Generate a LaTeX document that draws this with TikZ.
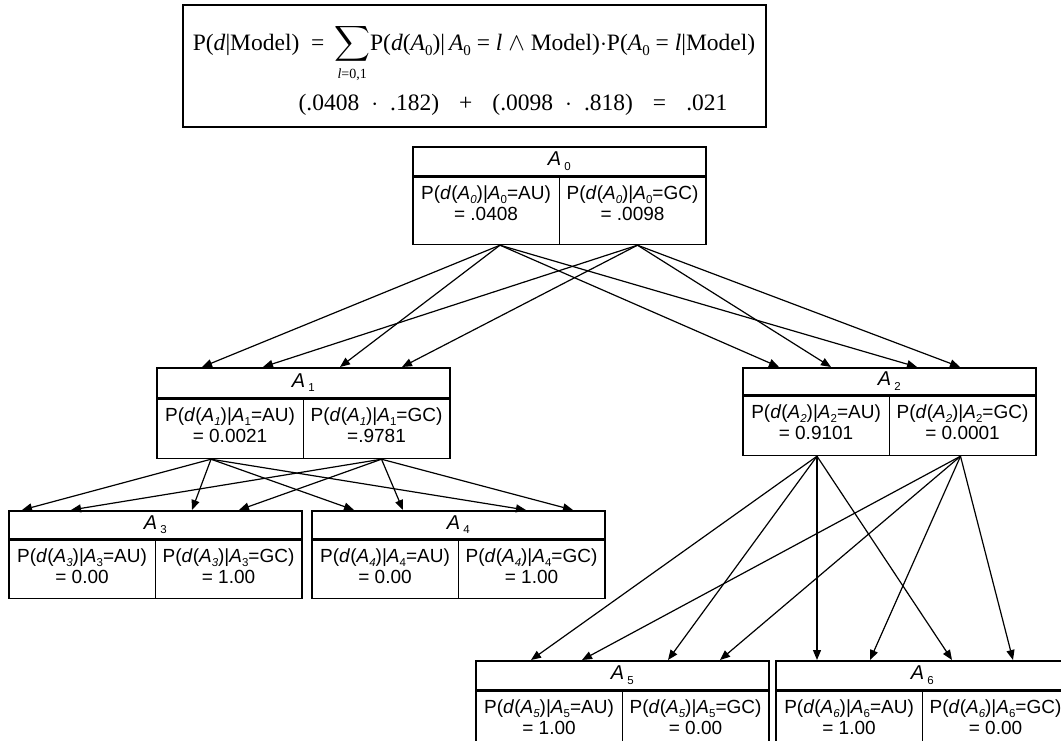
\documentclass[tikz,border=0pt]{standalone}
\usepackage{amsmath}
\usepackage{fontspec}
\setmainfont{Liberation Serif}
\newfontfamily\arial{Liberation Sans}
\usetikzlibrary{arrows.meta}
\newcommand\sbs[1]{\raisebox{-0.22em}{\fontsize{11.5}{11.5}\selectfont #1}}
\newcommand\fsub[1]{\raisebox{-0.25em}{\fontsize{15}{15}\selectfont #1}}
\newcommand\tbox[8]{%
  \node[hdr, minimum height=#4pt, anchor=north west] (#1h) at (#2,#3) {\textit{A}\,\sbs{#6}};
  \node[cellbox, minimum height=#5pt, anchor=north west] (#1l) at (#1h.south west) {};
  \node[cellbox, minimum height=#5pt, anchor=north east] (#1r) at (#1h.south east) {};
  \node[celltext] (#1lt) at ([yshift=-9pt]#1l.north) {P(\textit{d}(\textit{A}\sbs{\textit{#6}})|\textit{A}\sbs{#6}=AU)\\#7};
  \node[celltext] (#1rt) at ([yshift=-9pt]#1r.north) {P(\textit{d}(\textit{A}\sbs{\textit{#6}})|\textit{A}\sbs{#6}=GC)\\#8};
}
\tikzset{
  hdr/.style={draw, line width=1.6pt, minimum width=293pt, inner sep=0pt, font=\arial\fontsize{20}{21}\selectfont},
  cellbox/.style={draw, line width=1.6pt, minimum width=146.5pt, inner sep=0pt},
  celltext/.style={anchor=north, inner sep=0pt, align=center, font=\arial\fontsize{19}{21}\selectfont},
  arr/.style={line width=1.2pt, -{Triangle[length=10pt,width=8pt]}},
  ftext/.style={anchor=base, inner sep=0pt, font=\fontsize{23.5}{28}\selectfont}
}
\begin{document}
\begin{tikzpicture}[x=1pt,y=-1pt]
\clip (0,0) rectangle (1061,740);
\fill[white] (0,0) rectangle (1061,740);
% formula
\node[draw, line width=1.6pt, minimum width=583pt, minimum height=122pt, anchor=north west, inner sep=0pt] (F) at (182,4) {};
\node[ftext] (F1) at (474,50) {P(\textit{d}|Model) \ = \,$\displaystyle\sum\limits_{\mbox{\fontsize{14}{14}\selectfont\textit{l}=0,1}}$P(\textit{d}(\textit{A}\fsub{0})|\,\textit{A}\fsub{0} = \textit{l} $\wedge$ Model)$\cdot$P(\textit{A}\fsub{0} = \textit{l}|Model)};
\node[ftext] (F2) at (513,110) {(.0408\hspace{12pt}$\cdot$\hspace{12pt}.182)\hspace{20pt}+\hspace{20pt}(.0098\hspace{12pt}$\cdot$\hspace{12pt}.818)\hspace{20pt}=\hspace{20pt}.021};
% boxes
\tbox{A0}{412}{146}{29}{67}{0}{= .0408}{= .0098}
\tbox{A1}{156}{367}{30}{59}{1}{= 0.0021}{=.9781}
\tbox{A2}{742}{367}{27}{59}{2}{= 0.9101}{= 0.0001}
\tbox{A3}{8}{510}{28}{58}{3}{= 0.00}{= 1.00}
\tbox{A4}{311}{510}{28}{58}{4}{= 0.00}{= 1.00}
\tbox{A5}{475}{660}{29}{80}{5}{= 1.00}{= 0.00}
\tbox{A6}{775}{660}{29}{80}{6}{= 1.00}{= 0.00}
% arrows A0 -> A1, A2
\draw[arr] ([xshift=88pt]A0l.south west) -- ([xshift=46pt]A1h.north west);
\draw[arr] ([xshift=88pt]A0l.south west) -- ([xshift=184pt]A1h.north west);
\draw[arr] ([xshift=88pt]A0l.south west) -- ([xshift=37pt]A2h.north west);
\draw[arr] ([xshift=88pt]A0l.south west) -- ([xshift=175pt]A2h.north west);
\draw[arr] ([xshift=79pt]A0r.south west) -- ([xshift=107pt]A1h.north west);
\draw[arr] ([xshift=79pt]A0r.south west) -- ([xshift=246pt]A1h.north west);
\draw[arr] ([xshift=79pt]A0r.south west) -- ([xshift=89pt]A2h.north west);
\draw[arr] ([xshift=79pt]A0r.south west) -- ([xshift=218pt]A2h.north west);
% arrows A1 -> A3, A4
\draw[arr] ([xshift=55pt]A1l.south west) -- ([xshift=14pt]A3h.north west);
\draw[arr] ([xshift=55pt]A1l.south west) -- ([xshift=184pt]A3h.north west);
\draw[arr] ([xshift=55pt]A1l.south west) -- ([xshift=43pt]A4h.north west);
\draw[arr] ([xshift=55pt]A1l.south west) -- ([xshift=215pt]A4h.north west);
\draw[arr] ([xshift=79pt]A1r.south west) -- ([xshift=63pt]A3h.north west);
\draw[arr] ([xshift=79pt]A1r.south west) -- ([xshift=231pt]A3h.north west);
\draw[arr] ([xshift=79pt]A1r.south west) -- ([xshift=92pt]A4h.north west);
\draw[arr] ([xshift=79pt]A1r.south west) -- ([xshift=262pt]A4h.north west);
% arrows A2 -> A5, A6
\draw[arr] ([xshift=75pt]A2l.south west) -- ([xshift=56pt]A5h.north west);
\draw[arr] ([xshift=75pt]A2l.south west) -- ([xshift=193pt]A5h.north west);
\draw[arr] ([xshift=75pt]A2l.south west) -- ([xshift=42pt]A6h.north west);
\draw[arr] ([xshift=75pt]A2l.south west) -- ([xshift=177pt]A6h.north west);
\draw[arr] ([xshift=72pt]A2r.south west) -- ([xshift=107pt]A5h.north west);
\draw[arr] ([xshift=72pt]A2r.south west) -- ([xshift=245pt]A5h.north west);
\draw[arr] ([xshift=72pt]A2r.south west) -- ([xshift=95pt]A6h.north west);
\draw[arr] ([xshift=72pt]A2r.south west) -- ([xshift=238pt]A6h.north west);
\end{tikzpicture}
\end{document}
